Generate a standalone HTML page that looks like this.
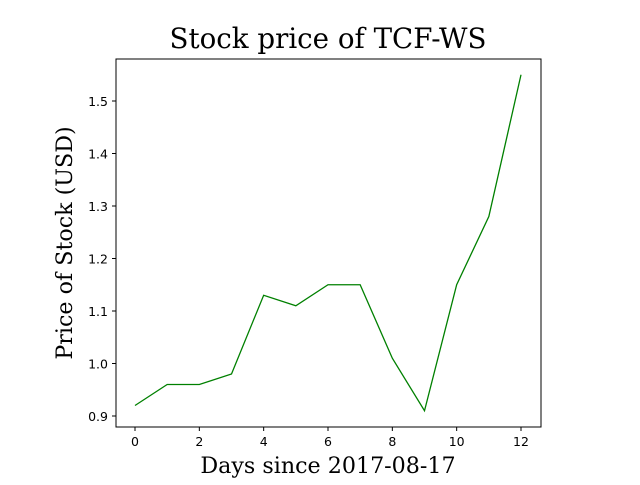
<!DOCTYPE html>
<html><head><meta charset="utf-8"><style>
body{margin:0;background:#fff}
svg text{fill:#000}
</style></head><body>
<svg id="chart" width="640" height="480" xmlns="http://www.w3.org/2000/svg">
<rect width="640" height="480" fill="#fff"/>
<text x="328" y="48" text-anchor="middle" font-family="DejaVu Serif, serif" font-size="27.7">Stock price of TCF-WS</text>
<text x="328" y="473" text-anchor="middle" font-family="DejaVu Serif, serif" font-size="22.2">Days since 2017-08-17</text>
<text transform="translate(72,243) rotate(-90)" text-anchor="middle" font-family="DejaVu Serif, serif" font-size="22.2">Price of Stock (USD)</text>
<g id="ticks"></g>
<polyline id="line" fill="none" stroke="#008000" stroke-width="1.3"/>
<rect x="116" y="59" width="425" height="368" fill="none" stroke="#000" stroke-width="1"/>
</svg>
<script>
const days=[0,1,2,3,4,5,6,7,8,9,10,11,12];
const prices=[0.92,0.96,0.96,0.98,1.13,1.11,1.15,1.15,1.01,0.91,1.15,1.28,1.55];
const xTicks=[0,2,4,6,8,10,12];
const yTicks=[0.9,1.0,1.1,1.2,1.3,1.4,1.5];
const ns="http://www.w3.org/2000/svg";
function xs(v){return 135+v*(521-135)/12;}
function ys(v){return 416-(v-0.9)*525;}
const line=document.getElementById('line');
line.setAttribute('points',days.map((d,i)=>xs(d)+','+ys(prices[i])).join(' '));
const g=document.getElementById('ticks');
xTicks.forEach(t=>{
 const l=document.createElementNS(ns,'line');
 l.setAttribute('x1',xs(t));l.setAttribute('x2',xs(t));l.setAttribute('y1',427);l.setAttribute('y2',431);l.setAttribute('stroke','#000');
 
 
 g.appendChild(l);
 const tx=document.createElementNS(ns,'text');
 tx.setAttribute('x',xs(t));tx.setAttribute('y',446);tx.setAttribute('text-anchor','middle');
 tx.setAttribute('font-family','DejaVu Sans, sans-serif');tx.setAttribute('font-size','12.5');
 tx.textContent=t;
 
 
 g.appendChild(tx);
});
yTicks.forEach(t=>{
 const l=document.createElementNS(ns,'line');
 l.setAttribute('x1',112);l.setAttribute('x2',116);l.setAttribute('y1',ys(t));l.setAttribute('y2',ys(t));l.setAttribute('stroke','#000');
 
 
 g.appendChild(l);
 const tx=document.createElementNS(ns,'text');
 tx.setAttribute('x',108);tx.setAttribute('y',ys(t)+5);tx.setAttribute('text-anchor','end');
 tx.setAttribute('font-family','DejaVu Sans, sans-serif');tx.setAttribute('font-size','12.5');
 tx.textContent=t.toFixed(1);
 
 
 g.appendChild(tx);
});
</script>
</body></html>
